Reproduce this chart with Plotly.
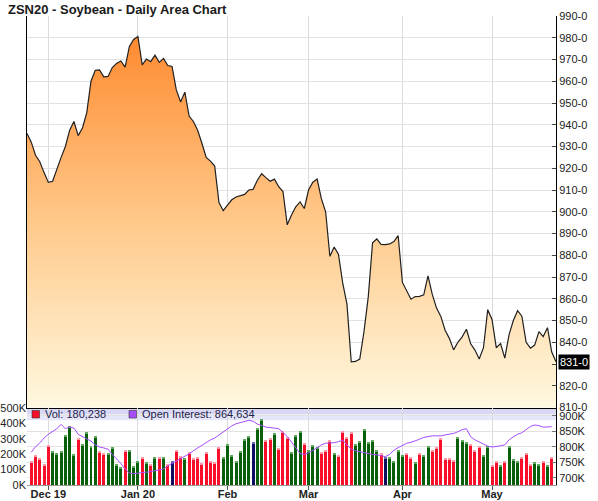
import plotly.graph_objects as go

title = "ZSN20 - Soybean - Daily Area Chart"

# daily closes (cents/bu), sessions from one day before the first volume bar to one day after the last
price = [936, 932, 926, 923, 918, 913.5, 914, 920, 925, 930,
         937.5, 941.5, 935, 938.5, 945.5, 960, 965, 965.2, 962, 962.2,
         966.3, 968.2, 969.3, 966.5, 976, 979.2, 980.6, 967.5, 970.2, 969,
         972, 968.7, 970.5, 967.2, 966.8, 956, 950.5, 955, 944, 941.5,
         937.5, 931.5, 925, 923.3, 921, 904.2, 900.5, 903, 905.5, 906.8,
         907.5, 908, 910, 910.3, 914.5, 917.5, 915.7, 914, 915, 911.5,
         909.3, 894, 898.5, 902.3, 904.5, 901.5, 910, 913.6, 915, 906,
         900, 879.5, 883.8, 880.5, 867.3, 857.5, 831, 831.2, 832.3, 845,
         861, 885.7, 887.5, 885, 884.9, 885.2, 886.3, 889, 867.5, 863.5,
         859.8, 861, 861.1, 861.8, 870.5, 862, 855.7, 851.9, 845.5, 841.8,
         836.5, 840, 842.5, 846, 839.3, 836.4, 832.3, 837.5, 855, 850.5,
         837.5, 839.4, 832.7, 843.5, 850, 854.5, 852, 840, 837.3, 838.7,
         844.9, 842.6, 846.7, 835.5, 831]
price_first_session = -1

# daily volume (thousands of contracts)
volume_k = [152, 196, 174, 135, 261, 222, 209, 220, 320, 380,
            202, 304, 267, 341, 254, 317, 220, 204, 204, 246,
            135, 117, 224, 224, 120, 154, 180, 148, 137, 183,
            183, 183, 133, 152, 226, 189, 176, 215, 176, 183,
            141, 215, 157, 150, 248, 183, 267, 196, 154, 220,
            296, 315, 280, 367, 430, 291, 302, 335, 241, 352,
            311, 215, 326, 352, 274, 228, 261, 243, 211, 224,
            291, 207, 196, 352, 309, 341, 265, 287, 363, 276,
            291, 224, 207, 183, 183, 154, 224, 196, 207, 180,
            150, 204, 196, 250, 226, 246, 302, 176, 176, 159,
            307, 293, 280, 263, 224, 250, 196, 250, 130, 154,
            126, 154, 254, 170, 157, 183, 204, 135, 146, 135,
            154, 126, 180.238]

# bar direction: r = down day, g = up day, n = unchanged
vol_dir = ("rrrrrggggg" "grggggrrgg" "ggrgggrgrg" "rgrnrrgrrr"
           "rrrrrggggg" "ggnggrrgrr" "rgggrgggrr" "rgrrrrgggg"
           "ggrnggggrr" "grggrrrrrr" "gggrrrggrr" "grgggrrrgg"
           "rgr")

# open interest (thousands of contracts)
open_interest_k = [782, 800, 812, 828, 840, 848, 858, 872, 858, 864,
                   860, 840, 833, 826, 818, 806, 799, 796, 792, 775,
                   761, 746, 728, 715, 713, 714, 716, 718, 720, 722,
                   726, 728, 738, 746, 752, 761, 768, 777, 787, 796,
                   803, 812, 822, 828, 838, 850, 860, 867, 874, 878,
                   883, 885, 882, 873, 869, 863, 862, 861, 858, 846,
                   833, 815, 795, 778, 775, 780, 788, 796, 806, 811,
                   811, 813, 816, 821, 806, 792, 787, 784, 780, 777,
                   775, 774, 772, 768, 775, 789, 797, 803, 811, 814,
                   818, 824, 830, 833, 835, 835, 835, 838, 840, 843,
                   848, 855, 858, 832, 822, 816, 809, 802, 799, 800,
                   803, 806, 822, 832, 840, 845, 855, 865, 870, 868,
                   863, 864, 864.634]

month_labels = ["Dec 19", "Jan 20", "Feb", "Mar", "Apr", "May"]
month_first_session = [4, 25, 46, 65, 87, 108]

last_price = 831
last_volume = 180238
last_oi = 864634

price_ticks = list(range(810, 991, 10))
vol_ticks = [0, 100000, 200000, 300000, 400000, 500000]
oi_ticks = [700000, 750000, 800000, 850000, 900000]

# ---------------------------------------------------------------
FONT = "Liberation Sans, Arial, sans-serif"
dir_color = {"r": "#F80F2A", "g": "#0A600A", "n": "#0E0E5E"}
cap_color = {"r": "#FF9AA8", "g": "#5FA85F", "n": "#6A6AB0"}

x_price = list(range(price_first_session, price_first_session + len(price)))
x_vol = list(range(len(volume_k)))
volume = [v * 1000 for v in volume_k]
oi = [v * 1000 for v in open_interest_k]
bar_colors = [dir_color[c] for c in vol_dir]
bar_caps = [cap_color[c] for c in vol_dir]
x_range = [x_price[0], x_price[-1]]

fig = go.Figure()

fig.add_trace(go.Scatter(
    x=x_price, y=price, mode="lines",
    line=dict(color="#202020", width=1.2),
    fill="tozeroy",
    fillgradient=dict(type="vertical", start=810, stop=981,
                      colorscale=[[0, "#FFF8E0"], [0.5, "#FFC98A"], [1, "#FF8A30"]]),
    xaxis="x", yaxis="y", hoverinfo="skip", showlegend=False))

fig.add_trace(go.Bar(
    x=x_vol, y=volume, marker=dict(color=bar_colors, line=dict(width=0)),
    width=0.7, xaxis="x2", yaxis="y2", showlegend=False, hoverinfo="skip"))

# light top cap on each volume bar
cap_h = 8000
fig.add_trace(go.Bar(
    x=x_vol, y=[cap_h] * len(volume), base=[v - cap_h for v in volume],
    marker=dict(color=bar_caps, line=dict(width=0)),
    width=0.7, xaxis="x2", yaxis="y2", showlegend=False, hoverinfo="skip"))

fig.add_trace(go.Scatter(
    x=x_vol, y=oi, mode="lines", line=dict(color="#A64DFF", width=1),
    xaxis="x2", yaxis="y3", showlegend=False, hoverinfo="skip"))

main_bottom = 0.1652
vol_top = 0.1642

tickfont = dict(family=FONT, size=11, color="#222222")

fig.update_layout(
    width=598, height=501,
    margin=dict(l=27, r=42, t=16, b=16, autoexpand=False),
    paper_bgcolor="white", plot_bgcolor="white",
    font=dict(family=FONT, size=11, color="#222222"),
    barmode="overlay", bargap=0,
    title=dict(text="<b>" + title + "</b>", x=8 / 598, xanchor="left",
               xref="container", y=1 - 9 / 501, yanchor="middle", yref="container",
               font=dict(family=FONT, size=13, color="#1a1a1a"), automargin=False),
    xaxis=dict(domain=[0, 1], range=x_range, anchor="y", automargin=False,
               tickvals=month_first_session, showticklabels=False, ticks="",
               showgrid=True, gridcolor="#DADADA", gridwidth=1, zeroline=False,
               showline=True, linecolor="black", linewidth=1),
    yaxis=dict(domain=[main_bottom, 1], range=[810, 990], side="right", anchor="x",
               automargin=False,
               tickvals=price_ticks, ticktext=[f"{v}-0" for v in price_ticks],
               ticks="inside", ticklen=4, tickcolor="#444444", tickfont=tickfont,
               showgrid=True, gridcolor="#E2E2E2", zeroline=False,
               showline=True, linecolor="black", linewidth=1, mirror=True),
    xaxis2=dict(domain=[0, 1], range=x_range, anchor="y2", automargin=False,
                tickvals=month_first_session, ticktext=month_labels,
                tickfont=dict(family=FONT, size=11, color="#222222", weight="bold"),
                ticks="outside", ticklen=4, tickcolor="#555555",
                ticklabelstandoff=-5,
                showgrid=True, gridcolor="#DADADA", zeroline=False,
                showline=True, linecolor="#999999", linewidth=1),
    yaxis2=dict(domain=[0, vol_top], range=[0, 500000], side="left", anchor="x2",
                automargin=False,
                tickvals=vol_ticks, ticktext=[f"{v // 1000}K" for v in vol_ticks],
                ticks="", tickfont=tickfont, showgrid=False, zeroline=False,
                showline=False),
    yaxis3=dict(domain=[0, vol_top], range=[676500, 924800], side="right",
                overlaying="y2", anchor="x2", automargin=False,
                tickvals=oi_ticks, ticktext=[f"{v // 1000}K" for v in oi_ticks],
                ticks="inside", ticklen=4, tickcolor="#777777", tickfont=tickfont,
                showgrid=True, gridcolor="#E2E2E2", zeroline=False,
                showline=True, linecolor="black", linewidth=1),
)

# lavender legend band at top of the volume panel
fig.add_shape(type="rect", xref="x2 domain", yref="y2 domain", x0=0, x1=1, y0=0.92, y1=1,
              fillcolor="#D8D8F4", line=dict(width=0), layer="below")
fig.add_shape(type="rect", xref="x2 domain", yref="y2 domain", x0=0, x1=1, y0=0.84, y1=0.92,
              fillcolor="#E6E6FA", line=dict(width=0), layer="below")


def px_x(X):
    return (X - 27) / 529


def px_y(Y):
    return (485 - Y) / 469


# legend markers and texts
fig.add_shape(type="rect", xref="paper", yref="paper",
              x0=px_x(32), x1=px_x(39.5), y0=px_y(418), y1=px_y(410.5),
              fillcolor="#F80F2A", line=dict(color="#333333", width=0.6))
fig.add_shape(type="rect", xref="paper", yref="paper",
              x0=px_x(129), x1=px_x(136.5), y0=px_y(418), y1=px_y(410.5),
              fillcolor="#A64DFF", line=dict(color="#333333", width=0.6))
fig.add_annotation(xref="paper", yref="paper", x=px_x(43), y=px_y(414.3),
                   xanchor="left", yanchor="middle", showarrow=False,
                   text=f"Vol: {last_volume:,}",
                   font=dict(family=FONT, size=11, color="#22224a"))
fig.add_annotation(xref="paper", yref="paper", x=px_x(140), y=px_y(414.3),
                   xanchor="left", yanchor="middle", showarrow=False,
                   text=f"Open Interest: {last_oi:,}",
                   font=dict(family=FONT, size=11, color="#22224a"))

# last price marker on right axis
fig.add_annotation(xref="paper", yref="y", x=1, y=last_price, xanchor="left",
                   yanchor="middle", xshift=2, showarrow=False,
                   text=f"{last_price}-0", bgcolor="black", borderpad=1,
                   font=dict(family=FONT, size=11, color="white"))

fig.write_html("out.html")
